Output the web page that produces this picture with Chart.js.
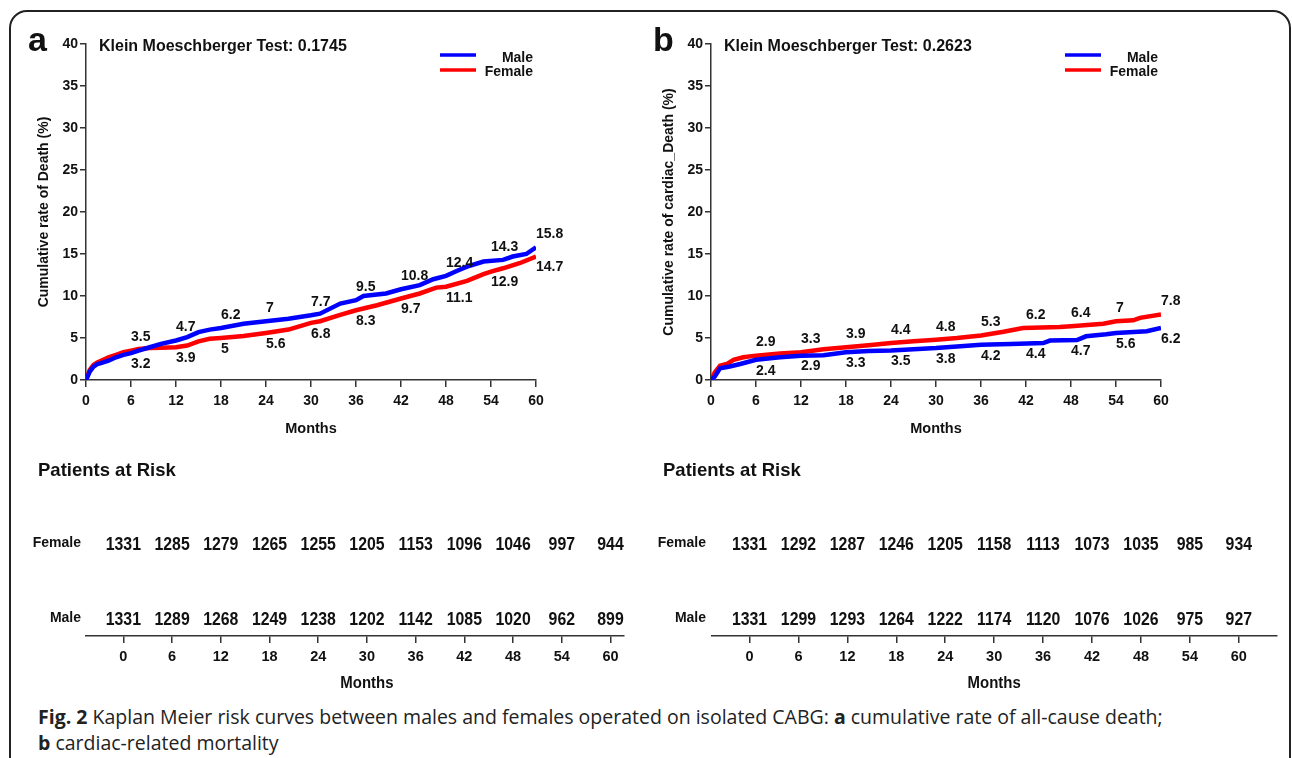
<!DOCTYPE html>
<html>
<head>
<meta charset="utf-8">
<script src="https://cdn.jsdelivr.net/npm/chart.js@4.4.1/dist/chart.umd.min.js"></script>
<style>
  html, body { margin: 0; padding: 0; background: #fff; }
  body { width: 1292px; height: 758px; position: relative; overflow: hidden; }
  .frame { position: absolute; left: 9px; top: 10px; width: 1282px; height: 820px;
           border: 2px solid #222; border-radius: 18px; box-sizing: border-box; }
  canvas { position: absolute; }
  .caption { position: absolute; left: 38px; top: 704px; color: #222;
             font-family: 'Open Sans', sans-serif; font-size: 19.5px; line-height: 26px;
             white-space: nowrap; }
  .caption b { font-weight: bold; }
</style>
</head>
<body>
<div class="frame"></div>
<canvas id="kmA" width="640" height="450" style="left:0;top:0"></canvas>
<canvas id="riskA" width="640" height="250" style="left:0;top:450px"></canvas>
<canvas id="kmB" width="640" height="450" style="left:625px;top:0"></canvas>
<canvas id="riskB" width="667" height="250" style="left:625px;top:450px"></canvas>
<div class="caption" id="caption"><b>Fig. 2</b> Kaplan Meier risk curves between males and females operated on isolated CABG: <b>a</b> cumulative rate of all-cause death;<br><b>b</b> cardiac-related mortality</div>

<script>
/* values */
const MONTH_TICKS = [0, 6, 12, 18, 24, 30, 36, 42, 48, 54, 60];
const LABEL_MONTHS = [6, 12, 18, 24, 30, 36, 42, 48, 54, 60];

// panel a: all-cause death
const aMaleMonths = [0, 0.5, 1, 1.5, 2, 3, 4, 5, 6, 7, 8.5, 10, 12, 13.5, 15, 16.5, 18, 21, 24, 27, 30, 31.2, 33.9, 36, 37, 40, 42, 44.5, 46.3, 48, 49.5, 50.8, 53, 55.6, 56.9, 58.7, 60];
const aMaleRate   = [0, 1.0, 1.6, 1.9, 2.0, 2.3, 2.7, 3.0, 3.2, 3.5, 3.9, 4.3, 4.7, 5.1, 5.7, 6.0, 6.2, 6.7, 7.0, 7.3, 7.7, 7.9, 9.1, 9.5, 10.0, 10.3, 10.8, 11.3, 12.0, 12.4, 13.0, 13.5, 14.1, 14.3, 14.7, 15.0, 15.8];
const aFemaleMonths = [0, 0.5, 1, 1.5, 2, 3, 4, 5, 6, 7, 8.5, 10, 12, 13.5, 15, 16.5, 18, 21, 24, 27, 30, 31.2, 33.9, 36, 38.8, 42, 44.5, 46.7, 48, 50.8, 53, 54, 55.6, 57.8, 60];
const aFemaleRate   = [0, 1.2, 1.8, 2.1, 2.3, 2.7, 3.0, 3.3, 3.5, 3.7, 3.8, 3.85, 3.9, 4.1, 4.6, 4.9, 5.0, 5.25, 5.6, 6.0, 6.8, 7.0, 7.75, 8.3, 8.9, 9.7, 10.3, 11.0, 11.1, 11.8, 12.6, 12.9, 13.3, 13.9, 14.7];
const aMaleLabels   = [3.2, 4.7, 6.2, 7, 7.7, 9.5, 10.8, 12.4, 14.3, 15.8];
const aFemaleLabels = [3.5, 3.9, 5, 5.6, 6.8, 8.3, 9.7, 11.1, 12.9, 14.7];
const aFemaleRisk = [1331, 1285, 1279, 1265, 1255, 1205, 1153, 1096, 1046, 997, 944];
const aMaleRisk   = [1331, 1289, 1268, 1249, 1238, 1202, 1142, 1085, 1020, 962, 899];

// panel b: cardiac death
const bMaleMonths = [0, 0.5, 1.2, 2.5, 3.9, 6, 9.2, 12, 15, 18, 21, 24, 27, 30, 32.8, 36, 40, 44.3, 45.2, 48.8, 50, 52.7, 54, 58.1, 60];
const bMaleRate   = [0, 0.4, 1.4, 1.6, 1.9, 2.4, 2.7, 2.9, 2.95, 3.3, 3.45, 3.5, 3.65, 3.8, 4.0, 4.2, 4.3, 4.4, 4.7, 4.75, 5.2, 5.45, 5.6, 5.8, 6.2];
const bFemaleMonths = [0, 0.5, 1.2, 2.1, 3, 4.3, 6, 9.2, 12, 15, 18, 21, 24, 27, 30, 32.8, 36, 39, 41.6, 46.5, 48, 52.3, 54, 56.3, 57.2, 60];
const bFemaleRate   = [0, 0.9, 1.7, 1.9, 2.4, 2.7, 2.9, 3.15, 3.3, 3.65, 3.9, 4.15, 4.4, 4.6, 4.8, 5.0, 5.3, 5.75, 6.2, 6.3, 6.4, 6.7, 7.0, 7.1, 7.4, 7.8];
const bMaleLabels   = [2.4, 2.9, 3.3, 3.5, 3.8, 4.2, 4.4, 4.7, 5.6, 6.2];
const bFemaleLabels = [2.9, 3.3, 3.9, 4.4, 4.8, 5.3, 6.2, 6.4, 7, 7.8];
const bFemaleRisk = [1331, 1292, 1287, 1246, 1205, 1158, 1113, 1073, 1035, 985, 934];
const bMaleRisk   = [1331, 1299, 1293, 1264, 1222, 1174, 1120, 1076, 1026, 975, 927];

const FAMILY = "'Liberation Sans', Arial, sans-serif";
const INK = '#111';
const AXIS = '#333';
const MALE_COLOR = '#0000ff';
const FEMALE_COLOR = '#ff0000';
const SQUEEZE = 0.88;   // no narrow face installed, so squeeze the regular one

const toPoints = (xs, ys) => xs.map((m, i) => ({ x: m, y: ys[i] }));
const fixedTicks = s => { s.ticks = MONTH_TICKS.map(v => ({ value: v })); };

function narrowText(ctx, text, x, y) {
    ctx.save();
    ctx.translate(x, y);
    ctx.scale(SQUEEZE, 1);
    ctx.fillText(text, 0, 0);
    ctx.restore();
}

/* ── decorations on the survival panels ── */
function kmDecor(panel) {
    return {
        id: 'kmDecor',
        afterDraw(chart) {
            const { ctx, scales: { x, y } } = chart;
            ctx.save();
            ctx.fillStyle = INK;
            ctx.textAlign = 'left';
            ctx.textBaseline = 'alphabetic';
            ctx.font = 'bold 34px ' + FAMILY;
            ctx.fillText(panel.letter, 28, 51);

            ctx.textBaseline = 'middle';
            ctx.font = 'bold 16px ' + FAMILY;
            ctx.fillText(panel.test, 99, 47);

            // legend
            ctx.lineWidth = 3.5;
            [['Male', MALE_COLOR, 55, 58], ['Female', FEMALE_COLOR, 70, 72.5]].forEach(([name, col, ly, ty]) => {
                ctx.strokeStyle = col;
                ctx.beginPath(); ctx.moveTo(440, ly); ctx.lineTo(476, ly); ctx.stroke();
                ctx.textAlign = 'right';
                ctx.font = 'bold 14px ' + FAMILY;
                ctx.fillText(name, 533, ty);
            });

            // value labels at each 6-month mark
            ctx.textAlign = 'left';
            ctx.font = 'bold 14px ' + FAMILY;
            LABEL_MONTHS.forEach((m, i) => {
                const male = panel.maleLabels[i], female = panel.femaleLabels[i];
                const maleUp = male >= female;
                const px = x.getPixelForValue(m);
                ctx.fillText(String(male), px, y.getPixelForValue(male) + (maleUp ? -13 : 11));
                ctx.fillText(String(female), px, y.getPixelForValue(female) + (maleUp ? 11 : -13));
            });
            ctx.restore();
        }
    };
}

function makeKm(id, panel) {
    const tickFont = { family: FAMILY, size: 14, weight: 'bold' };
    return new Chart(document.getElementById(id), {
        type: 'line',
        data: {
            datasets: [
                { label: 'Male', data: toPoints(panel.maleMonths, panel.maleRate), borderColor: MALE_COLOR, borderWidth: 4.5, pointRadius: 0, tension: 0 },
                { label: 'Female', data: toPoints(panel.femaleMonths, panel.femaleRate), borderColor: FEMALE_COLOR, borderWidth: 4.5, pointRadius: 0, tension: 0 },
            ],
        },
        options: {
            responsive: false,
            animation: false,
            events: [],
            layout: { padding: { left: 0, right: 104, top: 44, bottom: 0 } },
            plugins: { legend: { display: false }, tooltip: { enabled: false } },
            scales: {
                x: {
                    type: 'linear', min: 0, max: 60,
                    afterBuildTicks: fixedTicks,
                    afterFit: s => { s.height = 70; },
                    ticks: { color: INK, font: tickFont, padding: 6, maxRotation: 0 },
                    grid: { drawOnChartArea: false, tickLength: 7, color: AXIS, lineWidth: 1.5 },
                    border: { color: AXIS, width: 1.5 },
                    title: { display: true, text: 'Months', color: INK, font: { family: FAMILY, size: 14.5, weight: 'bold' }, padding: { top: 0, bottom: 12 } },
                },
                y: {
                    min: 0, max: 40,
                    afterFit: s => { s.width = 86; },
                    ticks: { stepSize: 5, color: INK, font: tickFont, padding: 2 },
                    grid: { drawOnChartArea: false, tickLength: 6, color: AXIS, lineWidth: 1.5 },
                    border: { color: AXIS, width: 1.5 },
                    title: { display: true, text: panel.yTitle, color: INK, font: { family: FAMILY, size: 14, weight: 'bold' }, padding: { top: 36, bottom: 0 } },
                },
            },
        },
        plugins: [kmDecor(panel)],
    });
}

/* ── patients-at-risk tables ── */
function riskDecor(panel) {
    return {
        id: 'riskDecor',
        afterDraw(chart) {
            const { ctx, chartArea, scales: { x } } = chart;
            const base = chartArea.bottom;
            ctx.save();
            ctx.fillStyle = INK;
            ctx.textBaseline = 'middle';
            ctx.textAlign = 'left';
            ctx.font = 'bold 18.5px ' + FAMILY;
            ctx.fillText('Patients at Risk', 38, 21);

            const rows = [['Female', panel.femaleRisk, base - 91], ['Male', panel.maleRisk, base - 16]];
            rows.forEach(([name, counts, ry]) => {
                ctx.textAlign = 'right';
                ctx.font = 'bold 14px ' + FAMILY;
                ctx.fillText(name, 81, ry - 2);
                ctx.textAlign = 'center';
                ctx.font = 'bold 18px ' + FAMILY;
                counts.forEach((n, i) => narrowText(ctx, String(n), x.getPixelForValue(MONTH_TICKS[i]), ry));
            });

            ctx.textAlign = 'center';
            ctx.font = 'bold 17px ' + FAMILY;
            const mid = (x.getPixelForValue(0) + x.getPixelForValue(60)) / 2;
            narrowText(ctx, 'Months', mid, base + 47);
            ctx.restore();
        }
    };
}

function makeRisk(id, panel, padLeft, padRight, xMax) {
    return new Chart(document.getElementById(id), {
        type: 'scatter',
        data: { datasets: [] },
        options: {
            responsive: false,
            animation: false,
            events: [],
            layout: { padding: { left: padLeft, right: padRight, top: 50, bottom: 0 } },
            plugins: { legend: { display: false }, tooltip: { enabled: false } },
            scales: {
                x: {
                    type: 'linear', min: -4.6, max: xMax,
                    afterBuildTicks: fixedTicks,
                    afterFit: s => { s.height = 64; },
                    ticks: { color: INK, font: { family: FAMILY, size: 14.5, weight: 'bold' }, padding: 5, maxRotation: 0 },
                    grid: { drawOnChartArea: false, tickLength: 7, color: AXIS, lineWidth: 1.5 },
                    border: { color: AXIS, width: 1.5 },
                },
                y: { display: false, min: 0, max: 1 },
            },
        },
        plugins: [riskDecor(panel)],
    });
}

const panelA = {
    letter: 'a', test: 'Klein Moeschberger Test: 0.1745', yTitle: 'Cumulative rate of Death (%)',
    maleMonths: aMaleMonths, maleRate: aMaleRate, femaleMonths: aFemaleMonths, femaleRate: aFemaleRate,
    maleLabels: aMaleLabels, femaleLabels: aFemaleLabels, maleRisk: aMaleRisk, femaleRisk: aFemaleRisk,
};
const panelB = {
    letter: 'b', test: 'Klein Moeschberger Test: 0.2623', yTitle: 'Cumulative rate of cardiac_Death (%)',
    maleMonths: bMaleMonths, maleRate: bMaleRate, femaleMonths: bFemaleMonths, femaleRate: bFemaleRate,
    maleLabels: bMaleLabels, femaleLabels: bFemaleLabels, maleRisk: bMaleRisk, femaleRisk: bFemaleRisk,
};

makeKm('kmA', panelA);
makeKm('kmB', panelB);
makeRisk('riskA', panelA, 86, 16, 61.66);
makeRisk('riskB', panelB, 87, 15, 64.68);
</script>
</body>
</html>
